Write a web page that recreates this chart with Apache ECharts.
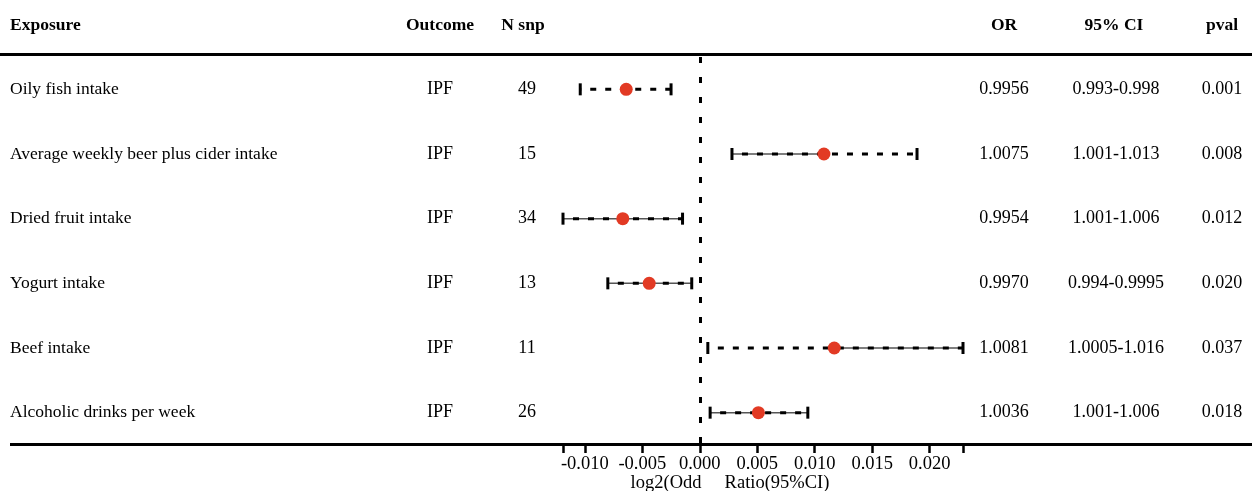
<!DOCTYPE html>
<html>
<head>
<meta charset="utf-8">
<script src="https://cdn.jsdelivr.net/npm/echarts@6/dist/echarts.min.js"></script>
<style>
  html, body { margin: 0; padding: 0; background: #fff; }
  #main { width: 1252px; height: 491px; }
</style>
</head>
<body>
<div id="main"></div>
<script>
// table columns
const exposures = [
  'Oily fish intake',
  'Average weekly beer plus cider intake',
  'Dried fruit intake',
  'Yogurt intake',
  'Beef intake',
  'Alcoholic drinks per week'
]
const outcomes = ['IPF', 'IPF', 'IPF', 'IPF', 'IPF', 'IPF']
const nSnp = [49, 15, 34, 13, 11, 26]
const orText = ['0.9956', '1.0075', '0.9954', '0.9970', '1.0081', '1.0036']
const ciText = ['0.993-0.998', '1.001-1.013', '1.001-1.006', '0.994-0.9995', '1.0005-1.016', '1.001-1.006']
const pvalText = ['0.001', '0.008', '0.012', '0.020', '0.037', '0.018']

// log2(OR) estimate and 95% CI bounds
const estimate = [-0.0064, 0.0108, -0.0067, -0.0044, 0.0117, 0.0051]
const lower = [-0.0104, 0.0028, -0.0119, -0.0080, 0.0007, 0.0009]
const upper = [-0.0025, 0.0189, -0.0015, -0.0007, 0.0229, 0.0094]

// axis ticks
const tickLabels = [-0.010, -0.005, 0.000, 0.005, 0.010, 0.015, 0.020]

// which half of each CI bar has the thin solid line under the dashes
const leftSolid = [false, true, true, true, false, true]
const rightSolid = [false, false, true, true, true, true]

const FONT = "'Liberation Serif', 'Times New Roman', serif"
const xMin = Math.min(...lower)
const xMax = Math.max(...upper)

const chart = echarts.init(document.getElementById('main'))

const headers = [
  { text: 'Exposure', x: 10, align: 'left' },
  { text: 'Outcome', x: 440, align: 'center' },
  { text: 'N snp', x: 523, align: 'center' },
  { text: 'OR', x: 1004, align: 'center' },
  { text: '95% CI', x: 1114, align: 'center' },
  { text: 'pval', x: 1222, align: 'center' }
]

function txt(text, x, y, align, size) {
  return {
    type: 'text',
    style: {
      text: String(text), x: x, y: y,
      align: align, verticalAlign: 'middle',
      font: (size || 18) + 'px ' + FONT, fill: '#000'
    }
  }
}

function renderRow(params, api) {
  const i = api.value(1)
  const y = api.coord([0, i])[1]
  const xl = api.coord([api.value(0), i])[0]
  const xe = api.coord([api.value(2), i])[0]
  const xu = api.coord([api.value(3), i])[0]
  const children = []
  if (leftSolid[i]) {
    children.push({ type: 'line', shape: { x1: xl, y1: y, x2: xe, y2: y }, style: { stroke: '#555', lineWidth: 1.5 } })
  }
  if (rightSolid[i]) {
    children.push({ type: 'line', shape: { x1: xe, y1: y, x2: xu, y2: y }, style: { stroke: '#555', lineWidth: 1.5 } })
  }
  children.push({
    type: 'line',
    shape: { x1: xl, y1: y, x2: xu, y2: y },
    style: { stroke: '#000', lineWidth: 3, lineDash: [6, 9], lineDashOffset: -10 }
  })
  children.push({ type: 'line', shape: { x1: xl, y1: y - 6, x2: xl, y2: y + 6 }, style: { stroke: '#000', lineWidth: 3 } })
  children.push({ type: 'line', shape: { x1: xu, y1: y - 6, x2: xu, y2: y + 6 }, style: { stroke: '#000', lineWidth: 3 } })

  children.push(txt(exposures[i], 10, y, 'left', 17.5))
  children.push(txt(outcomes[i], 440, y, 'center'))
  children.push(txt(nSnp[i], 527, y, 'center'))
  children.push(txt(orText[i], 1004, y, 'center'))
  children.push(txt(ciText[i], 1116, y, 'center'))
  children.push(txt(pvalText[i], 1222, y, 'center'))
  return { type: 'group', children: children }
}

chart.setOption({
  animation: false,
  backgroundColor: '#fff',
  textStyle: { fontFamily: FONT },
  grid: { left: 563, right: 289, top: 57, bottom: 46 },
  xAxis: {
    type: 'value',
    min: xMin,
    max: xMax,
    axisLine: { show: false },
    splitLine: { show: false },
    axisTick: {
      show: true,
      length: 8,
      customValues: [xMin].concat(tickLabels, [xMax]),
      lineStyle: { color: '#000', width: 2.5 }
    },
    axisLabel: {
      customValues: tickLabels,
      formatter: function (v) { return v.toFixed(3) },
      color: '#000',
      fontSize: 18.5,
      fontFamily: FONT,
      margin: 10
    }
  },
  yAxis: {
    type: 'category',
    data: exposures,
    inverse: true,
    show: false
  },
  graphic: [
    { type: 'rect', shape: { x: 0, y: 53, width: 1252, height: 3 }, style: { fill: '#000' } },
    { type: 'rect', shape: { x: 10, y: 443, width: 1242, height: 3 }, style: { fill: '#000' } },
    {
      type: 'text',
      style: {
        text: 'log2(Odd     Ratio(95%CI)', x: 730, y: 483,
        align: 'center', verticalAlign: 'middle',
        font: '18.5px ' + FONT, fill: '#000'
      }
    }
  ].concat(headers.map(function (h) {
    return {
      type: 'text',
      style: {
        text: h.text, x: h.x, y: 25,
        align: h.align, verticalAlign: 'middle',
        font: 'bold 17.5px ' + FONT, fill: '#000'
      }
    }
  })),
  series: [
    {
      type: 'custom',
      renderItem: renderRow,
      encode: { x: [0, 2, 3], y: 1 },
      data: exposures.map(function (e, i) { return [lower[i], i, estimate[i], upper[i]] }),
      silent: true,
      z: 2
    },
    {
      type: 'scatter',
      symbol: 'circle',
      symbolSize: 13,
      itemStyle: { color: '#e23a24', opacity: 1 },
      data: estimate.map(function (v, i) { return [v, i] }),
      z: 3,
      markLine: {
        silent: true,
        symbol: 'none',
        label: { show: false },
        lineStyle: { color: '#000', width: 3, type: [6, 14] },
        data: [{ xAxis: 0 }]
      }
    }
  ]
})
</script>
</body>
</html>
